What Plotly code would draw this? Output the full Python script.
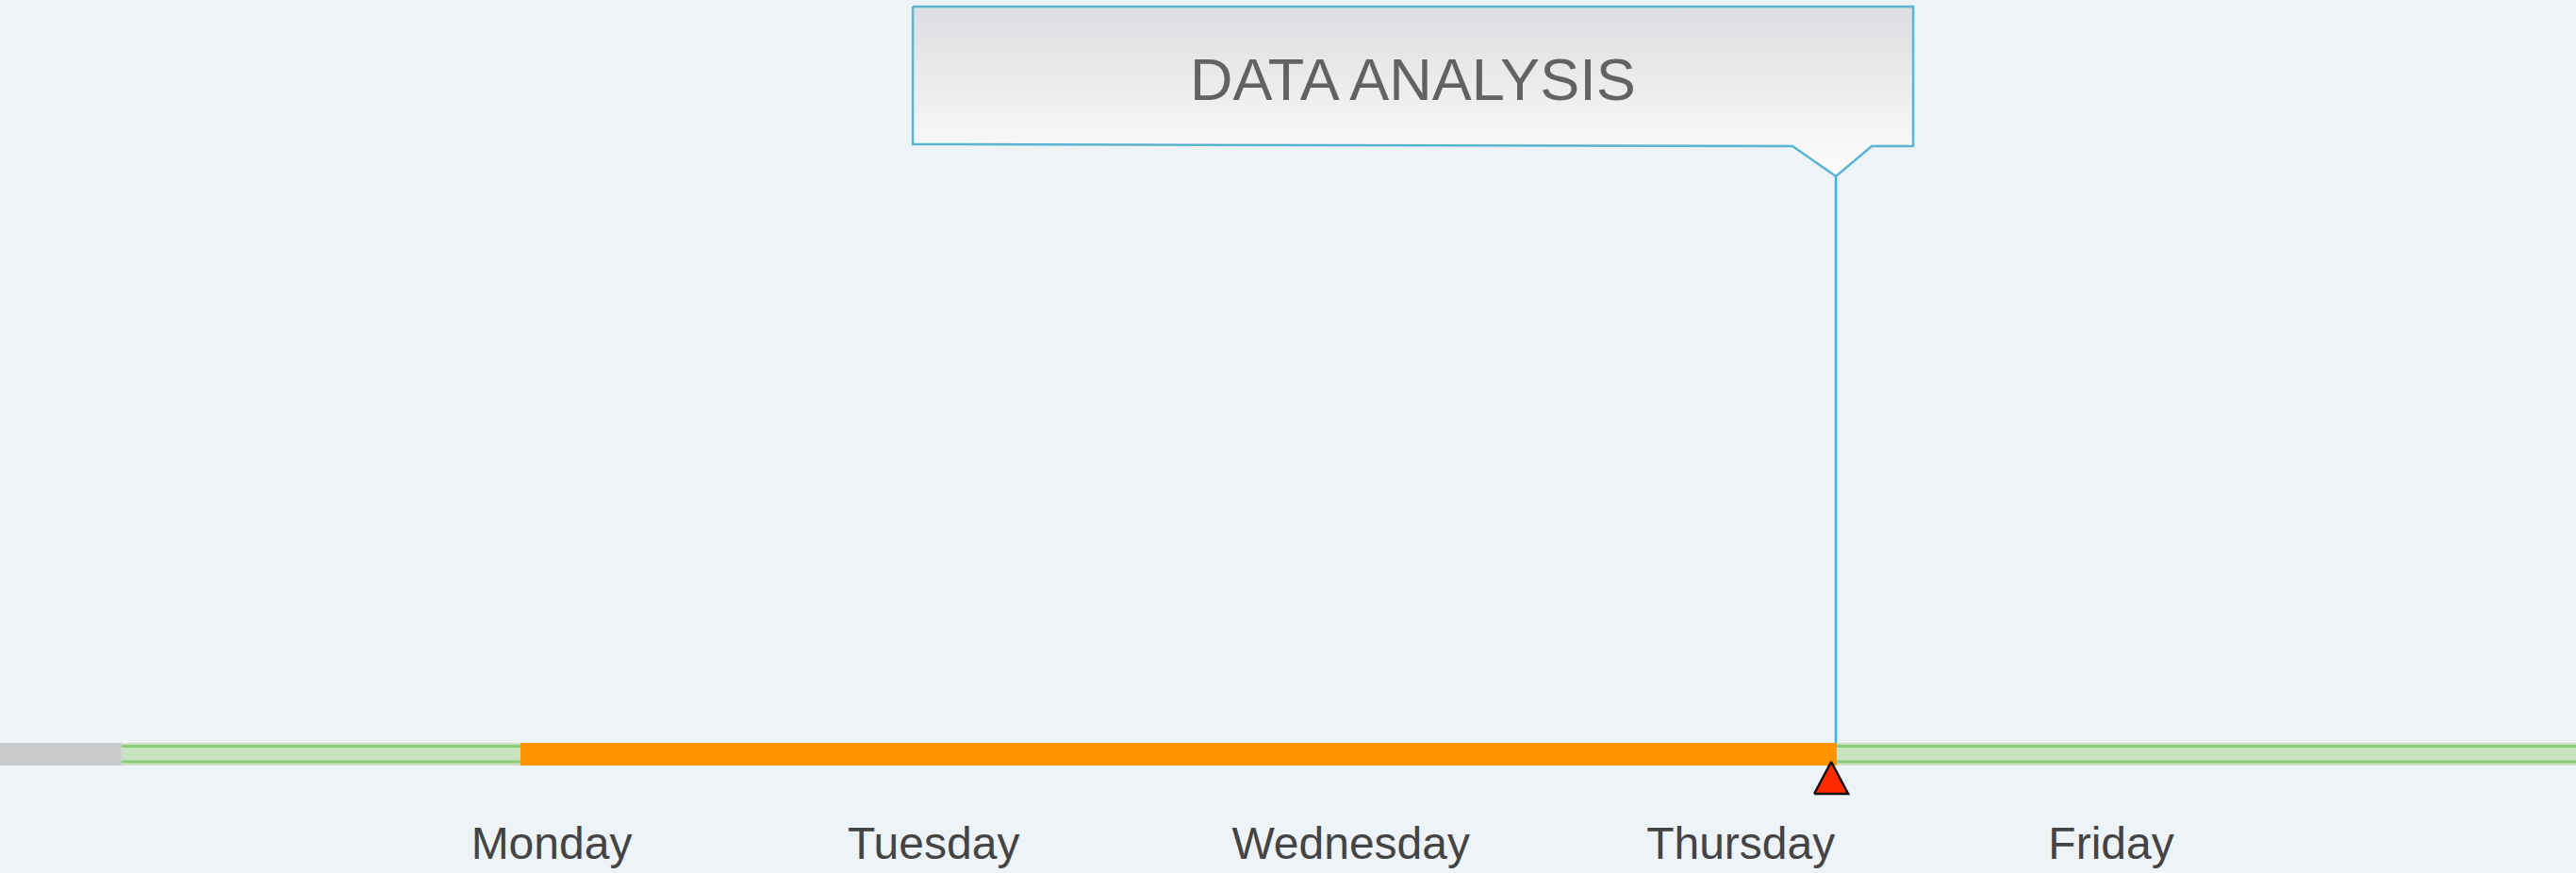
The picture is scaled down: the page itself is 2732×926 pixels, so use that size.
import plotly.graph_objects as go

# ---------------- data ----------------
days = ["Monday", "Tuesday", "Wednesday", "Thursday", "Friday"]
day_pos = [0.0, 0.98, 2.05, 3.05, 4.0]          # label centres, in day units

seg_names = ["Archived", "Planned", "In progress"]
seg_start = [-1.7, -1.103, -0.08]
seg_end = [-1.103, 5.6, 3.296]

now_marker = 3.282                               # red "now" triangle
event_x = [3.294]
event_label = ["DATA ANALYSIS"]

# ---------------- layout geometry ----------------
W, H = 2732, 926
MB = 66                      # bottom margin (room for labels)
PLOT_H = H - MB
PX_PER_DAY = 413.5
MONDAY_PX = 585
PX_PER_Y = 60.0
BAR_Y_PX = 800               # pixel row of the timeline
x0 = -MONDAY_PX / PX_PER_DAY
x1 = (W - MONDAY_PX) / PX_PER_DAY
y_top = BAR_Y_PX / PX_PER_Y
y_bot = -(PLOT_H - BAR_Y_PX) / PX_PER_Y

def dx(px):
    return px / PX_PER_DAY

def dy(px):  # pixel offset downward -> data offset
    return -px / PX_PER_Y

BAR_H = 24 / PX_PER_Y
FONT = "Liberation Sans, Arial, sans-serif"

fig = go.Figure()

seg_colors = ["#c9cacc", "#c8e4c0", "#ff9400"]
for n, s, e, c in zip(seg_names, seg_start, seg_end, seg_colors):
    fig.add_trace(go.Bar(
        orientation="h", y=[0], x=[e - s], base=[s], width=BAR_H,
        marker=dict(color=c, line=dict(width=0)), name=n,
        showlegend=False, hoverinfo="skip"))

# darker green edges of the planned band, where the band is visible
g_s, g_e = seg_start[1], seg_end[1]
o_s, o_e = seg_start[2], seg_end[2]
for a, b in ((g_s, o_s), (o_e, g_e)):
    for off in (-8.5, 8.0):
        fig.add_trace(go.Scatter(
            x=[a, b], y=[dy(off), dy(off)], mode="lines",
            line=dict(color="#90cb7b", width=3),
            showlegend=False, hoverinfo="skip"))

# callout for the event
for ex, lab in zip(event_x, event_label):
    tip_y = dy(187 - BAR_Y_PX)
    # connector line
    fig.add_trace(go.Scatter(
        x=[ex, ex], y=[dy(-12), tip_y], mode="lines",
        line=dict(color="#35b5e8", width=2.5),
        showlegend=False, hoverinfo="skip"))
    # box with pointer (offsets in pixels from the tip)
    offs = [(-979, -180), (82, -180), (82, -32), (38, -32), (0, 0),
            (-46, -32), (-979, -34), (-979, -180)]
    bx = [ex + dx(o[0]) for o in offs]
    by = [tip_y + dy(o[1]) for o in offs]
    fig.add_trace(go.Scatter(
        x=bx, y=by, mode="lines", fill="toself",
        fillgradient=dict(type="vertical",
                          colorscale=[[0, "#fdfdfd"], [1, "#dcdde0"]]),
        line=dict(color="#5ab4d4", width=2.5),
        showlegend=False, hoverinfo="skip"))
    fig.add_annotation(
        x=ex + dx((-979 + 82) / 2), y=tip_y + dy(-103), text=lab,
        showarrow=False, xref="x", yref="y",
        font=dict(family=FONT, size=63, color="#626262"))

# now marker (triangle, offsets in pixels below the timeline)
tri = [(-18, 42), (18, 42), (0, 8), (-18, 42)]
fig.add_trace(go.Scatter(
    x=[now_marker + dx(o[0]) for o in tri],
    y=[dy(o[1]) for o in tri], mode="lines", fill="toself",
    fillcolor="#ff2a00", line=dict(color="#111111", width=2.5),
    showlegend=False, hoverinfo="skip"))

fig.update_layout(
    width=W, height=H,
    margin=dict(l=0, r=0, t=0, b=MB),
    paper_bgcolor="#eef3f7", plot_bgcolor="#eef3f7",
    barmode="overlay", showlegend=False,
    xaxis=dict(range=[x0, x1], tickvals=day_pos, ticktext=days,
               showgrid=False, zeroline=False, showline=False, ticks="",
               ticklabelstandoff=2,
               tickfont=dict(family=FONT, size=48, color="#444444"),
               fixedrange=True),
    yaxis=dict(range=[y_bot, y_top], visible=False, fixedrange=True),
)

fig.write_html("out.html",
               config={"displayModeBar": False},
               post_script="document.body.style.margin='0';"
                           "document.body.style.background='#eef3f7';")
